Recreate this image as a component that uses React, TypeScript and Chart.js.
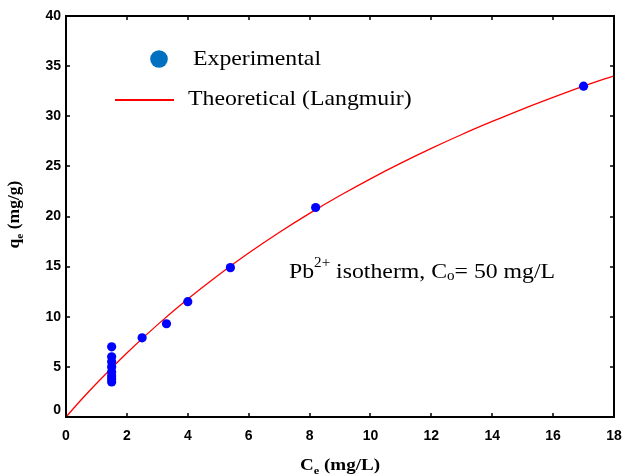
import React, { useEffect, useRef } from "react";
import { Chart, registerables } from "chart.js";

Chart.register(...registerables);

// ---- data ----
const expCe = [1.5, 1.5, 1.5, 1.5, 1.5, 1.5, 1.5, 1.5, 2.5, 3.3, 4.0, 5.4, 8.2, 17.0];
const expQe = [7.0, 6.0, 5.5, 5.0, 4.5, 4.1, 3.8, 3.5, 7.9, 9.3, 11.5, 14.9, 20.9, 33.0];

const theoCe = [0, 0.5, 1, 2, 3, 4, 5, 6, 7, 8, 9, 10, 11, 12, 13, 14, 15, 16, 17, 18];
const theoQe = [0, 1.72, 3.34, 6.39, 9.19, 11.77, 14.15, 16.35, 18.4, 20.31, 22.09, 23.76, 25.32, 26.79, 28.18, 29.48, 30.72, 31.88, 33.0, 34.04];

const xTicks = [0, 2, 4, 6, 8, 10, 12, 14, 16, 18];
const yTicks = [0, 5, 10, 15, 20, 25, 30, 35, 40];

const legendExp = "Experimental";
const legendTheo = "Theoretical (Langmuir)";

const SERIF = "'Liberation Serif', 'Times New Roman', serif";
const SANS = "'Liberation Sans', Arial, sans-serif";

type Seg = { t: string; size: number; bold?: boolean; dy?: number };

function segFont(s: Seg) {
  return `${s.bold ? "bold " : ""}${s.size}px ${SERIF}`;
}

function drawRich(
  ctx: CanvasRenderingContext2D,
  segs: Seg[],
  x: number,
  y: number,
  align: "left" | "center",
  sx: number,
  rotate = 0
) {
  ctx.save();
  ctx.translate(x, y);
  if (rotate) ctx.rotate(rotate);
  ctx.scale(sx, 1);
  ctx.textBaseline = "alphabetic";
  ctx.textAlign = "left";
  let w = 0;
  for (const s of segs) {
    ctx.font = segFont(s);
    w += ctx.measureText(s.t).width;
  }
  let cx = align === "center" ? -w / 2 : 0;
  for (const s of segs) {
    ctx.font = segFont(s);
    ctx.fillText(s.t, cx, s.dy || 0);
    cx += ctx.measureText(s.t).width;
  }
  ctx.restore();
}

const decorPlugin = {
  id: "decor",
  afterDraw(chart: any) {
    const { ctx, chartArea: a, scales } = chart;
    ctx.save();
    ctx.fillStyle = "#000";
    ctx.strokeStyle = "#000";

    // inward ticks on all four sides
    ctx.lineWidth = 1.5;
    const tl = 4;
    ctx.beginPath();
    for (const v of xTicks) {
      const px = Math.round(scales.x.getPixelForValue(v));
      ctx.moveTo(px, a.bottom);
      ctx.lineTo(px, a.bottom - tl);
      ctx.moveTo(px, a.top);
      ctx.lineTo(px, a.top + tl);
    }
    for (const v of yTicks) {
      const py = Math.round(scales.y.getPixelForValue(v));
      ctx.moveTo(a.left, py);
      ctx.lineTo(a.left + tl, py);
      ctx.moveTo(a.right, py);
      ctx.lineTo(a.right - tl, py);
    }
    ctx.stroke();

    // frame
    ctx.lineWidth = 2;
    ctx.strokeRect(a.left, a.top, a.right - a.left, a.bottom - a.top);

    // y-axis zero label, lifted clear of the x-axis zero label
    ctx.font = `bold 14px ${SANS}`;
    ctx.textAlign = "right";
    ctx.textBaseline = "middle";
    ctx.fillText(String(yTicks[0]), a.left - 5, scales.y.getPixelForValue(yTicks[0]) - 7);

    // axis titles
    const cxp = (a.left + a.right) / 2;
    drawRich(
      ctx,
      [
        { t: "C", size: 17, bold: true },
        { t: "e", size: 11, bold: true, dy: 4 },
        { t: " (mg/L)", size: 17, bold: true },
      ],
      cxp,
      470,
      "center",
      1.12
    );
    const cyp = (a.top + a.bottom) / 2 - 2;
    drawRich(
      ctx,
      [
        { t: "q", size: 17, bold: true },
        { t: "e", size: 11, bold: true, dy: 4 },
        { t: " (mg/g)", size: 17, bold: true },
      ],
      18.5,
      cyp,
      "center",
      1.03,
      -Math.PI / 2
    );

    // legend
    ctx.fillStyle = "#0070C0";
    ctx.beginPath();
    ctx.arc(159, 59, 8.8, 0, Math.PI * 2);
    ctx.fill();
    ctx.strokeStyle = "#FF0000";
    ctx.lineWidth = 2;
    ctx.beginPath();
    ctx.moveTo(115, 100);
    ctx.lineTo(174, 100);
    ctx.stroke();
    ctx.fillStyle = "#000";
    drawRich(ctx, [{ t: legendExp, size: 22 }], 193, 65, "left", 1.08);
    drawRich(ctx, [{ t: legendTheo, size: 22 }], 188, 105, "left", 1.08);

    // annotation
    drawRich(
      ctx,
      [
        { t: "Pb", size: 22 },
        { t: "2+", size: 14, dy: -11 },
        { t: " isotherm, C", size: 22 },
        { t: "o", size: 14, dy: 2 },
        { t: "= 50 mg/L", size: 22 },
      ],
      289,
      278,
      "left",
      1.08
    );

    ctx.restore();
  },
};

export default function App() {
  const ref = useRef<HTMLCanvasElement>(null);

  useEffect(() => {
    if (!ref.current) return;
    const tickFont = { family: SANS, size: 14, weight: "bold" as const };
    const chart = new Chart(ref.current, {
      type: "scatter",
      data: {
        datasets: [
          {
            label: legendExp,
            data: expCe.map((x, i) => ({ x, y: expQe[i] })),
            backgroundColor: "#0000FF",
            borderColor: "#0000FF",
            borderWidth: 0,
            pointRadius: 4.6,
            showLine: false,
          },
          {
            label: legendTheo,
            data: theoCe.map((x, i) => ({ x, y: theoQe[i] })),
            borderColor: "#FF0000",
            backgroundColor: "#FF0000",
            borderWidth: 1.3,
            pointRadius: 0,
            showLine: true,
            cubicInterpolationMode: "monotone",
          } as any,
        ],
      },
      options: {
        responsive: false,
        animation: false,
        devicePixelRatio: 1,
        layout: { padding: { left: 0, top: 16, right: 11, bottom: 0 } },
        plugins: {
          legend: { display: false },
          tooltip: { enabled: false },
          title: { display: false },
        },
        scales: {
          x: {
            type: "linear",
            min: 0,
            max: 18,
            afterBuildTicks: (s: any) => {
              s.ticks = xTicks.map((value) => ({ value }));
            },
            afterFit: (s: any) => {
              s.height = 59;
              s.paddingLeft = 0;
              s.paddingRight = 0;
            },
            ticks: {
              font: tickFont,
              color: "#000",
              padding: 11,
              maxRotation: 0,
              autoSkip: false,
              callback: (v: any) => String(v),
            },
            grid: { display: false, drawTicks: false },
            border: { display: false },
          },
          y: {
            type: "linear",
            min: 0,
            max: 40,
            afterBuildTicks: (s: any) => {
              s.ticks = yTicks.map((value) => ({ value }));
            },
            afterFit: (s: any) => {
              s.width = 66;
              s.paddingTop = 0;
              s.paddingBottom = 0;
            },
            ticks: {
              font: tickFont,
              color: "#000",
              padding: 5,
              autoSkip: false,
              callback: (v: any) => (v === yTicks[0] ? "" : String(v)),
            },
            grid: { display: false, drawTicks: false },
            border: { display: false },
          },
        },
      },
      plugins: [decorPlugin],
    });
    return () => chart.destroy();
  }, []);

  return (
    <div style={{ position: "fixed", left: 0, top: 0, width: 625, height: 476, background: "#fff" }}>
      <canvas ref={ref} width={625} height={476} style={{ display: "block" }} />
    </div>
  );
}
